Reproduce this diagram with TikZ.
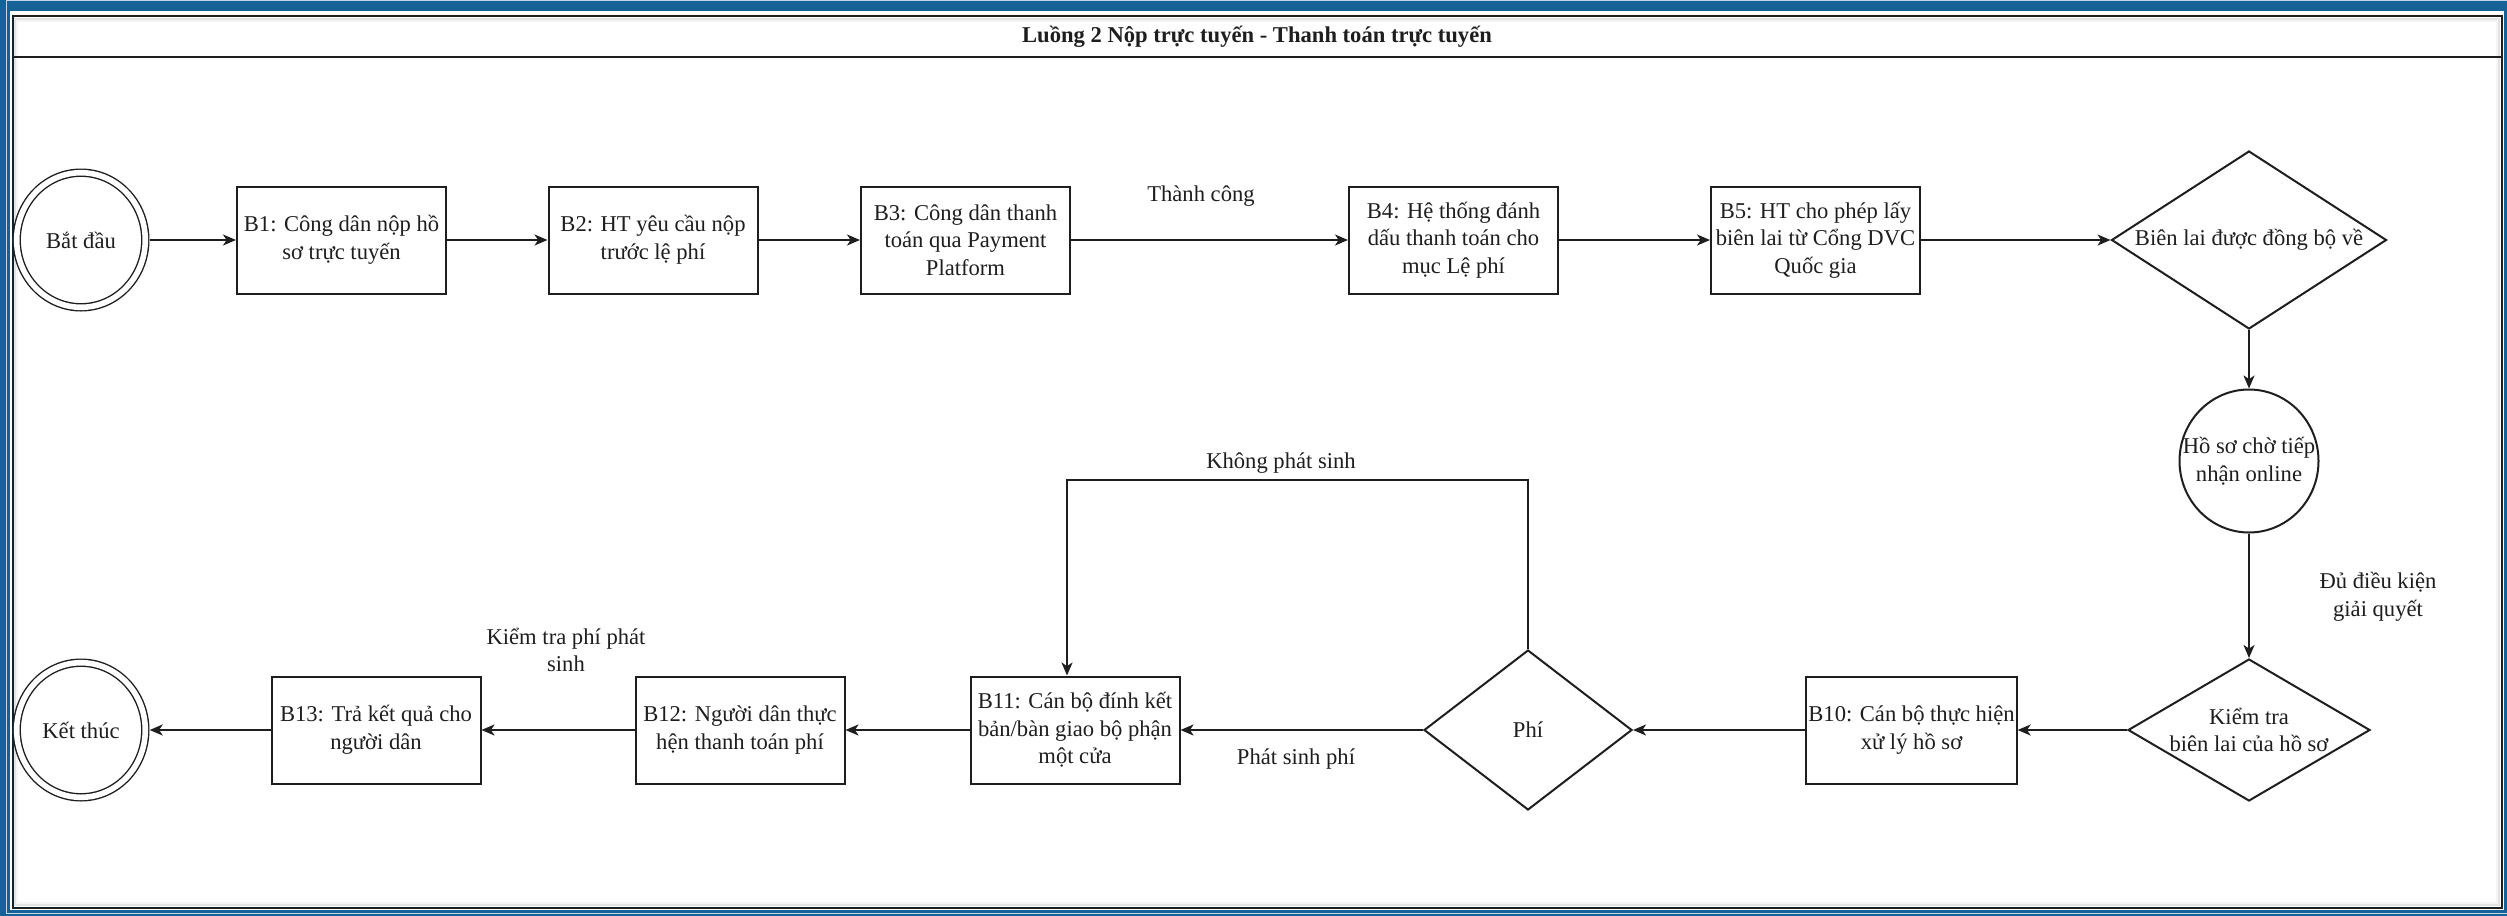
\documentclass[tikz,border=0pt]{standalone}
\usepackage{fontspec}
\setmainfont{Liberation Serif}
\usetikzlibrary{shapes.geometric, arrows.meta, calc}
\definecolor{frameblue}{RGB}{22,98,150}
\definecolor{framelight}{RGB}{190,215,235}
\definecolor{ink}{RGB}{30,30,30}
\newcommand\dtxt{\fontsize{11.3pt}{13.8pt}\selectfont}
\begin{document}
\begin{tikzpicture}[x=0.5pt, y=-0.5pt,
  every node/.style={text=ink},
  box/.style={draw=ink, line width=1pt, rectangle, minimum width=104.5pt, minimum height=53.5pt, inner sep=1pt, align=center, font=\dtxt},
  dia/.style={draw=ink, line width=1pt, diamond, inner sep=0pt},
  term/.style={draw=ink, ellipse, double, line width=0.7pt, double distance=2.8pt, minimum width=64.3pt, minimum height=67.3pt, inner sep=0pt, outer sep=2.2pt, font=\dtxt},
  oval/.style={draw=ink, ellipse, line width=1pt, inner sep=0pt},
  lbl/.style={font=\dtxt, align=center, inner sep=0pt},
  arr/.style={draw=ink, line width=1pt, -{Stealth[length=6.5pt, width=5.5pt, inset=1.8pt]}},
]
\useasboundingbox (0,0) rectangle (2507,916);
% frame
\fill[frameblue] (0,0) rectangle (2507,916);
\draw[framelight, line width=0.5pt] (6.5,0.5) rectangle (2530,913.5);
\fill[white] (9.5,10.5) rectangle (2504,910);
\draw[gray!22, line width=1pt] (15,19) rectangle (2499,905);
\draw[gray!8, line width=1pt] (17,21) rectangle (2497,903);
\draw[ink, line width=1pt] (12.5,16) rectangle (2502,908);
\draw[ink, line width=1pt] (12.5,57) -- (2502,57);
\node[font=\dtxt\bfseries, inner sep=0pt] (title) at (1257,37) {Luồng 2 Nộp trực tuyến - Thanh toán trực tuyến};

% row 1
\node[term] (start) at (81,240) {Bắt đầu};
\node[box] (b1) at (341.5,240) {B1: Công dân nộp hồ\\sơ trực tuyến};
\node[box] (b2) at (653,240) {B2: HT yêu cầu nộp\\trước lệ phí};
\node[box] (b3) at (965.5,240) {B3: Công dân thanh\\toán qua Payment\\Platform};
\node[box] (b4) at (1453.5,240) {B4: Hệ thống đánh\\dấu thanh toán cho\\mục Lệ phí};
\node[box] (b5) at (1815.5,240) {B5: HT cho phép lấy\\biên lai từ Cổng DVC\\Quốc gia};
\node[dia, minimum width=137.5pt, minimum height=89pt] (d1) at (2249,240) {};
\node[lbl] (d1t) at (d1) {Biên lai được đồng bộ về};

% right column
\node[oval, minimum width=69.5pt, minimum height=71.5pt] (hs) at (2249,461) {};
\node[lbl] (hst) at (hs) {Hồ sơ chờ tiếp\\nhận online};
\node[dia, minimum width=121pt, minimum height=71pt] (d2) at (2249,730) {};
\node[lbl] (d2t) at (d2) {Kiểm tra\\biên lai của hồ sơ};

% row 2
\node[box] (b10) at (1911.5,730) {B10: Cán bộ thực hiện\\xử lý hồ sơ};
\node[dia, minimum width=104pt, minimum height=80pt] (phi) at (1528,730) {};
\node[lbl] (phit) at (phi) {Phí};
\node[box] (b11) at (1075,730) {B11: Cán bộ đính kết\\bản/bàn giao bộ phận\\một cửa};
\node[box] (b12) at (740,730) {B12: Người dân thực\\hện thanh toán phí};
\node[box] (b13) at (376,730) {B13: Trả kết quả cho\\người dân};
\node[term] (end) at (81,730) {Kết thúc};

% labels
\node[lbl] (l1) at (1201,196) {Thành công};
\node[lbl] (l2) at (2378,597) {Đủ điều kiện\\giải quyết};
\node[lbl] (l3) at (1296,759) {Phát sinh phí};
\node[lbl] (l4) at (1281,463) {Không phát sinh};
\node[lbl] (l5) at (566,650) {Kiểm tra phí phát\\sinh};
\coordinate (k1) at (1067,480);

% connectors
\draw[arr] (start) -- (b1);
\draw[arr] (b1) -- (b2);
\draw[arr] (b2) -- (b3);
\draw[arr] (b3) -- (b4);
\draw[arr] (b4) -- (b5);
\draw[arr] (b5) -- (d1);
\draw[arr] (d1) -- (hs);
\draw[arr] (hs) -- (d2);
\draw[arr] (d2) -- (b10);
\draw[arr] (b10) -- (phi);
\draw[arr] (phi) -- (b11);
\draw[arr] (phi.north) |- (k1) -- (k1 |- b11.north);
\draw[arr] (b11) -- (b12);
\draw[arr] (b12) -- (b13);
\draw[arr] (b13) -- (end);
\end{tikzpicture}
\end{document}
